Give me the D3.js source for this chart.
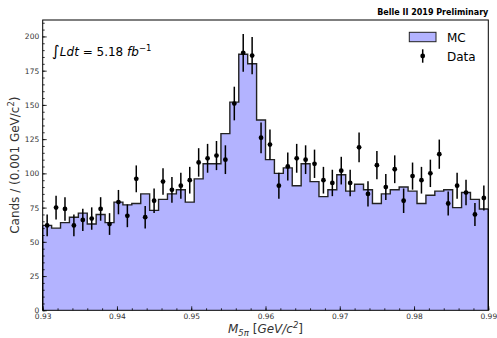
<!DOCTYPE html>
<html>
<head>
<meta charset="utf-8">
<script src="https://cdn.jsdelivr.net/npm/d3@7"></script>
<style>
  body { margin: 0; background: #fff; }
  svg { font-family: "DejaVu Sans", sans-serif; }
</style>
</head>
<body>
<div id="chart"></div>
<script>
"use strict";

// bins: 50 bins of 0.0012 between 0.93 and 0.99
const xMin = 0.93, xMax = 0.99, binWidth = 0.0012;
const mcCounts = [62, 60, 64, 68, 71, 63, 70, 64, 79, 77,
                  78, 85, 73, 81, 85, 88, 79, 96, 107, 107,
                  129, 152, 187, 180, 139, 110, 100, 104, 91, 107,
                  94, 83, 88, 99, 87, 92, 88, 78, 85, 88,
                  90, 87, 78, 84, 87, 88, 75, 86, 81, 74];
const dataCounts = [62, 75, 74, 62, 66, 67, 74, 63, 79, 69,
                    96, 68, 80, 94, 88, 91, 95, 108, 111, 113,
                    110, 151, 188, 186, 126, 121, 91, 105, 111, 110,
                    107, 95, 93, 102, 93, 119, 85, 106, 90, 103,
                    80, 98, 95, 100, 114, 78, 91, 86, 70, 82];
const xTicks = [0.93, 0.94, 0.95, 0.96, 0.97, 0.98, 0.99];
const yTicks = [0, 25, 50, 75, 100, 125, 150, 175, 200];

const W = 497, H = 338;
const pLeft = 42.7, pRight = 488.3, pTop = 20, pBottom = 310.3;

const svg = d3.select('#chart').append('svg').attr('width', W).attr('height', H);

let x = d3.scaleLinear().domain([xMin, xMax]).range([pLeft, pRight]);
let y = d3.scaleLinear().domain([0, 212]).range([pBottom, pTop]);

// MC histogram
let mcPts = mcCounts.map((c, i) => ({ e: xMin + i * binWidth, c: c }));
mcPts.push({ e: xMax, c: mcCounts[mcCounts.length - 1] });

let area = d3.area().x(d => x(d.e)).y0(y(0)).y1(d => y(d.c)).curve(d3.curveStepAfter);
svg.append('path').datum(mcPts).attr('d', area).attr('fill', '#b3b3ff');

// step outline, closed down to zero at both ends
let stepLine = d3.line().x(d => x(d.e)).y(d => y(d.c)).curve(d3.curveStepAfter);
svg.append('path').datum(mcPts).attr('d', stepLine)
   .attr('fill', 'none').attr('stroke', '#222').attr('stroke-width', 1.4);
svg.append('line').attr('x1', x(xMin)).attr('x2', x(xMin)).attr('y1', y(0)).attr('y2', y(mcCounts[0]))
   .attr('stroke', '#222').attr('stroke-width', 1.4);
svg.append('line').attr('x1', x(xMax)).attr('x2', x(xMax)).attr('y1', y(0)).attr('y2', y(mcCounts[mcCounts.length - 1]))
   .attr('stroke', '#222').attr('stroke-width', 1.4);

// data points with sqrt(N) errors
let pts = svg.append('g').selectAll('g').data(dataCounts).enter().append('g');
pts.append('line')
   .attr('x1', (d, i) => x(xMin + (i + 0.5) * binWidth))
   .attr('x2', (d, i) => x(xMin + (i + 0.5) * binWidth))
   .attr('y1', d => y(d - Math.sqrt(d)))
   .attr('y2', d => y(d + Math.sqrt(d)))
   .attr('stroke', '#000').attr('stroke-width', 1.5);
pts.append('circle')
   .attr('cx', (d, i) => x(xMin + (i + 0.5) * binWidth))
   .attr('cy', d => y(d))
   .attr('r', 2.4).attr('fill', '#000');

// axes, ticks pointing in
let xMinor = d3.range(0, 31).map(i => xMin + i * 0.002);
let yMinor = d3.range(0, 43).map(i => i * 5);

svg.append('g').attr('transform', `translate(0,${pBottom})`)
   .call(d3.axisBottom(x).tickValues(xTicks).tickFormat(d3.format('.2f')).tickSize(-4).tickPadding(3));
svg.append('g').attr('transform', `translate(0,${pBottom})`)
   .call(d3.axisBottom(x).tickValues(xMinor).tickFormat('').tickSize(-2));
svg.append('g').attr('transform', `translate(${pLeft},0)`)
   .call(d3.axisLeft(y).tickValues(yTicks).tickSize(-4).tickPadding(3.5));
svg.append('g').attr('transform', `translate(${pLeft},0)`)
   .call(d3.axisLeft(y).tickValues(yMinor).tickFormat('').tickSize(-2));

svg.selectAll('.domain').remove();
svg.selectAll('.tick line').attr('stroke', '#000').attr('stroke-width', 0.8);
svg.selectAll('.tick text').attr('font-family', 'DejaVu Sans').attr('font-size', 7.5).attr('fill', '#333');

// frame
svg.append('rect').attr('x', pLeft).attr('y', pTop).attr('width', pRight - pLeft).attr('height', pBottom - pTop)
   .attr('fill', 'none').attr('stroke', '#000').attr('stroke-width', 1);

// title
svg.append('text').attr('x', pRight).attr('y', 15).attr('text-anchor', 'end')
   .attr('font-weight', 'bold').attr('font-size', 8).text('Belle II 2019 Preliminary');

// luminosity
let lumi = svg.append('text').attr('x', 52).attr('y', 55.5).attr('font-size', 12);
lumi.append('tspan').attr('font-size', 15).text('\u222B');
lumi.append('tspan').attr('font-style', 'italic').text('Ldt');
lumi.append('tspan').text(' = 5.18 ');
lumi.append('tspan').attr('font-style', 'italic').text('fb');
lumi.append('tspan').attr('font-size', 8.5).attr('dy', -5).text('\u22121');

// legend
svg.append('rect').attr('x', 409.3).attr('y', 32.3).attr('width', 26.7).attr('height', 9.4)
   .attr('fill', '#b3b3ff').attr('stroke', '#222').attr('stroke-width', 1);
svg.append('text').attr('x', 447).attr('y', 41.7).attr('font-size', 12).text('MC');
svg.append('line').attr('x1', 422.7).attr('x2', 422.7).attr('y1', 49.3).attr('y2', 62.7)
   .attr('stroke', '#000').attr('stroke-width', 1.5);
svg.append('circle').attr('cx', 422.7).attr('cy', 56).attr('r', 2.4).attr('fill', '#000');
svg.append('text').attr('x', 447).attr('y', 60.7).attr('font-size', 12).text('Data');

// axis labels
let yl = svg.append('text').attr('transform', `translate(18.5,${(pTop + pBottom) / 2}) rotate(-90)`)
   .attr('text-anchor', 'middle').attr('font-size', 12).attr('fill', '#333');
yl.append('tspan').text('Cands / (0.001 GeV/c');
yl.append('tspan').attr('font-size', 8.5).attr('dy', -5).text('2');
yl.append('tspan').attr('dy', 5).text(')');

let xl = svg.append('text').attr('x', (pLeft + pRight) / 2).attr('y', 333)
   .attr('text-anchor', 'middle').attr('font-size', 12).attr('fill', '#333');
xl.append('tspan').attr('font-style', 'italic').text('M');
xl.append('tspan').attr('font-style', 'italic').attr('font-size', 8.5).attr('dy', 3).text('5\u03C0');
xl.append('tspan').attr('dy', -3).text(' [');
xl.append('tspan').attr('font-style', 'italic').text('GeV/c');
xl.append('tspan').attr('font-style', 'italic').attr('font-size', 8.5).attr('dy', -5).text('2');
xl.append('tspan').attr('dy', 5).text(']');
</script>
</body>
</html>
